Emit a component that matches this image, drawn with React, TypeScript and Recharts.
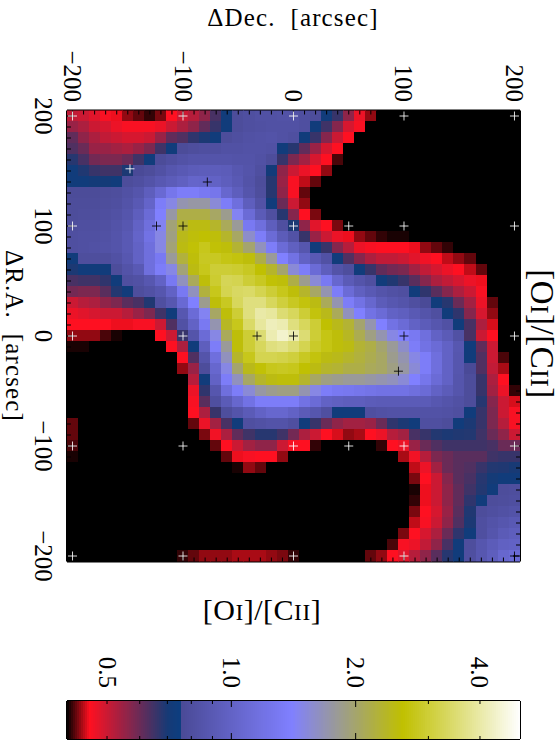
import React from "react";
import { ScatterChart, Scatter, XAxis, YAxis } from "recharts";

// [OI]/[CII] ratio map, rows run from dDec-axis row +200 down to -200 (step 10), columns -200..200
const r00 = [.51,.50,.48,.46,.45,.43,.42,.41,.425,.455,.50,.52,.56,.64,.73,.78,.80,.82,.82,.83,.83,.80,.78,.73,.66,.56,.47,.43,.38,.38,.38,.38,.38,.38,.38,.38,.38,.38,.38,.38,.38];
const r01 = [.55,.53,.50,.49,.47,.46,.46,.46,.47,.50,.53,.56,.61,.66,.73,.78,.80,.81,.82,.82,.82,.80,.73,.65,.57,.49,.46,.38,.38,.38,.38,.38,.38,.38,.38,.38,.38,.38,.38,.38,.38];
const r02 = [.61,.56,.53,.51,.50,.49,.49,.50,.55,.61,.63,.67,.695,.73,.78,.80,.82,.83,.84,.82,.80,.73,.66,.57,.50,.455,.40,.38,.38,.38,.38,.38,.38,.38,.38,.38,.38,.38,.38,.38,.38];
const r03 = [.63,.60,.55,.55,.54,.53,.55,.58,.65,.73,.77,.79,.80,.80,.82,.82,.83,.83,.82,.73,.68,.61,.55,.49,.455,.40,.38,.38,.38,.38,.38,.38,.38,.38,.38,.38,.38,.38,.38,.38,.38];
const r04 = [.68,.64,.59,.58,.58,.60,.65,.73,.77,.80,.83,.85,.85,.85,.85,.84,.84,.82,.78,.66,.58,.54,.49,.455,.415,.38,.38,.38,.38,.38,.38,.38,.38,.38,.38,.38,.38,.38,.38,.38,.38];
const r05 = [.73,.69,.66,.65,.65,.695,.76,.78,.82,.87,.90,.93,.94,.94,.93,.88,.85,.80,.72,.56,.50,.47,.455,.43,.38,.38,.38,.38,.38,.38,.38,.38,.38,.38,.38,.38,.38,.38,.38,.38,.38];
const r06 = [.73,.73,.715,.715,.73,.78,.80,.84,.89,.93,.97,1.03,1.02,1.0,.95,.90,.84,.78,.68,.55,.46,.44,.42,.39,.38,.38,.38,.38,.38,.38,.38,.38,.38,.38,.38,.38,.38,.38,.38,.38,.38];
const r07 = [.77,.77,.77,.78,.79,.82,.86,.95,1.08,1.25,1.35,1.35,1.3,1.25,1.05,.95,.86,.79,.68,.56,.46,.42,.39,.38,.38,.38,.38,.38,.38,.38,.38,.38,.38,.38,.38,.38,.38,.38,.38,.38,.38];
const r08 = [.78,.78,.78,.79,.80,.84,.90,1.02,1.35,1.5,1.7,1.75,1.75,1.55,1.35,1.15,.95,.83,.73,.60,.50,.43,.39,.38,.38,.38,.38,.38,.38,.38,.38,.38,.38,.38,.38,.38,.38,.38,.38,.38,.38];
const r09 = [.78,.79,.79,.80,.82,.86,.95,1.1,1.4,1.75,2.2,2.2,2.2,2.05,1.85,1.45,1.1,.92,.80,.68,.57,.455,.425,.39,.38,.38,.38,.38,.38,.38,.38,.38,.38,.38,.38,.38,.38,.38,.38,.38,.38];
const r10 = [.79,.80,.80,.81,.84,.88,1.0,1.15,1.45,1.95,2.3,2.5,2.5,2.35,2.1,1.8,1.3,1.15,.95,.80,.695,.56,.48,.455,.425,.395,.38,.38,.38,.38,.38,.38,.38,.38,.38,.38,.38,.38,.38,.38,.38];
const r11 = [.80,.81,.81,.82,.85,.90,1.02,1.2,1.5,1.9,2.45,2.55,2.6,2.55,2.35,2.05,1.6,1.35,1.1,.93,.83,.66,.55,.50,.47,.45,.43,.42,.41,.405,.405,.40,.395,.38,.38,.38,.38,.38,.38,.38,.38];
const r12 = [.80,.81,.82,.83,.85,.90,1.0,1.15,1.5,1.95,2.5,2.65,2.8,2.65,2.55,2.3,2.0,1.65,1.35,1.1,.97,.87,.73,.66,.57,.52,.47,.46,.455,.455,.455,.45,.43,.42,.41,.395,.38,.38,.38,.38,.38];
const r13 = [.73,.79,.79,.79,.82,.88,1.0,1.15,1.3,1.8,2.25,2.55,2.85,2.85,2.75,2.7,2.55,2.2,1.8,1.4,1.2,1.0,.90,.82,.73,.63,.57,.53,.51,.51,.50,.48,.465,.455,.44,.43,.42,.40,.38,.38,.38];
const r14 = [.695,.73,.73,.73,.78,.84,.90,1.15,1.35,1.5,1.95,2.5,2.8,3.0,3.0,2.95,2.85,2.6,2.35,2.0,1.55,1.35,1.1,.95,.84,.79,.73,.66,.61,.59,.58,.54,.51,.49,.47,.455,.44,.42,.395,.38,.38];
const r15 = [.64,.65,.65,.67,.73,.80,.82,.88,1.0,1.3,1.65,2.1,2.55,2.95,3.25,3.2,3.0,2.85,2.65,2.55,2.2,1.85,1.55,1.3,1.05,.92,.85,.80,.73,.69,.66,.62,.57,.53,.51,.49,.47,.45,.40,.38,.38];
const r16 = [.59,.58,.58,.62,.685,.73,.79,.82,.87,1.0,1.3,1.65,2.25,2.8,3.2,3.35,3.4,3.2,3.0,2.8,2.55,2.35,2.05,1.7,1.35,1.1,.97,.90,.85,.82,.80,.73,.67,.62,.57,.53,.50,.46,.40,.38,.38];
const r17 = [.50,.52,.53,.56,.58,.62,.64,.69,.80,.88,1.08,1.4,1.85,2.55,2.85,3.3,3.6,3.6,3.3,3.05,2.85,2.7,2.5,2.1,1.7,1.35,1.2,1.05,.93,.88,.85,.80,.76,.73,.68,.60,.54,.47,.42,.38,.38];
const r18 = [.47,.48,.49,.50,.50,.52,.55,.58,.65,.73,.88,1.1,1.45,2.05,2.55,3.0,3.6,4.0,3.9,3.5,3.3,3.0,2.7,2.45,2.1,1.65,1.4,1.2,1.1,1.0,.96,.90,.85,.80,.73,.67,.57,.49,.43,.38,.38];
const r19 = [.455,.455,.455,.455,.45,.45,.46,.46,.50,.63,.82,1.0,1.3,1.7,2.4,2.8,3.4,3.9,4.2,4.1,3.6,3.3,3.0,2.6,2.45,2.3,2.0,1.7,1.4,1.2,1.1,1.0,.93,.87,.82,.73,.64,.53,.445,.38,.38];
const r20 = [.43,.43,.43,.415,.405,.38,.38,.40,.455,.50,.66,.85,1.1,1.5,2.1,2.55,3.0,3.5,4.1,4.4,4.1,3.5,3.0,2.75,2.55,2.4,2.15,1.9,1.7,1.5,1.4,1.3,1.15,1.0,.92,.82,.64,.50,.455,.38,.38];
const r21 = [.405,.405,.40,.395,.38,.38,.38,.38,.38,.455,.53,.73,.95,1.35,1.8,2.55,3.0,3.3,3.6,3.7,3.5,3.2,2.9,2.75,2.55,2.5,2.3,2.2,2.0,1.8,1.6,1.35,1.2,1.1,1.0,.88,.73,.61,.50,.40,.38];
const r22 = [.38,.38,.38,.38,.38,.38,.38,.38,.38,.39,.455,.63,.85,1.15,1.65,2.35,2.8,3.2,3.2,3.15,3.05,2.85,2.7,2.5,2.45,2.35,2.25,2.15,2.05,1.85,1.7,1.5,1.35,1.15,1.0,.87,.73,.63,.50,.415,.38];
const r23 = [.38,.38,.38,.38,.38,.38,.38,.38,.38,.38,.43,.55,.78,1.05,1.5,2.0,2.45,2.65,2.8,2.85,2.8,2.6,2.5,2.35,2.3,2.2,2.2,2.1,2.05,1.9,1.75,1.55,1.35,1.15,1.0,.87,.76,.63,.51,.435,.38];
const r24 = [.38,.38,.38,.38,.38,.38,.38,.38,.38,.38,.395,.52,.73,1.0,1.35,1.65,2.05,2.35,2.5,2.55,2.55,2.35,2.05,1.9,1.85,1.8,1.8,1.75,1.7,1.65,1.55,1.4,1.25,1.1,1.0,.86,.78,.66,.53,.455,.38];
const r25 = [.38,.38,.38,.38,.38,.38,.38,.38,.38,.38,.38,.47,.67,.87,1.15,1.35,1.55,1.75,1.85,1.9,1.9,1.7,1.5,1.35,1.3,1.28,1.25,1.22,1.2,1.2,1.2,1.15,1.1,1.0,.93,.86,.78,.66,.54,.47,.41];
const r26 = [.395,.38,.38,.38,.38,.38,.38,.38,.38,.38,.38,.46,.62,.80,.92,1.05,1.2,1.35,1.35,1.35,1.35,1.2,1.1,1.0,.97,.95,.95,.93,.92,.92,.92,.92,.92,.88,.85,.82,.78,.68,.57,.50,.445];
const r27 = [.40,.38,.38,.38,.38,.38,.38,.38,.38,.38,.38,.455,.53,.66,.79,.85,.92,1.0,1.05,1.05,1.0,.92,.87,.80,.73,.73,.73,.80,.82,.83,.83,.83,.83,.83,.82,.80,.73,.66,.58,.50,.46];
const r28 = [.42,.38,.38,.38,.38,.38,.38,.38,.38,.38,.38,.42,.47,.54,.64,.73,.80,.82,.84,.84,.80,.73,.66,.60,.56,.54,.54,.55,.60,.67,.695,.73,.80,.80,.78,.73,.695,.66,.58,.52,.46];
const r29 = [.42,.38,.38,.38,.38,.38,.38,.38,.38,.38,.38,.38,.425,.465,.53,.61,.65,.68,.68,.65,.59,.53,.50,.455,.445,.43,.435,.455,.47,.52,.54,.64,.66,.685,.695,.69,.685,.65,.60,.56,.50];
const r30 = [.415,.38,.38,.38,.38,.38,.38,.38,.38,.38,.38,.38,.38,.42,.455,.50,.54,.56,.56,.50,.46,.455,.41,.38,.38,.38,.38,.38,.41,.455,.47,.55,.60,.63,.65,.65,.65,.65,.64,.60,.60];
const r31 = [.405,.38,.38,.38,.38,.38,.38,.38,.38,.38,.38,.38,.38,.38,.42,.45,.46,.455,.455,.43,.39,.38,.38,.38,.38,.38,.38,.38,.38,.38,.435,.465,.52,.58,.60,.62,.62,.62,.65,.66,.66];
const r32 = [.395,.38,.38,.38,.38,.38,.38,.38,.38,.38,.38,.38,.38,.38,.38,.405,.43,.42,.38,.38,.38,.38,.38,.38,.38,.38,.38,.38,.38,.38,.395,.44,.47,.54,.60,.62,.63,.66,.685,.69,.70];
const r33 = [.38,.38,.38,.38,.38,.38,.38,.38,.38,.38,.38,.38,.38,.38,.38,.38,.38,.38,.38,.38,.38,.38,.38,.38,.38,.38,.38,.38,.38,.38,.38,.425,.455,.50,.57,.62,.64,.68,.71,.73,.73];
const r34 = [.38,.38,.38,.38,.38,.38,.38,.38,.38,.38,.38,.38,.38,.38,.38,.38,.38,.38,.38,.38,.38,.38,.38,.38,.38,.38,.38,.38,.38,.38,.38,.405,.45,.50,.56,.61,.65,.685,.73,.78,.79];
const r35 = [.38,.38,.38,.38,.38,.38,.38,.38,.38,.38,.38,.38,.38,.38,.38,.38,.38,.38,.38,.38,.38,.38,.38,.38,.38,.38,.38,.38,.38,.38,.38,.41,.45,.50,.56,.61,.67,.73,.78,.79,.80];
const r36 = [.38,.38,.38,.38,.38,.38,.38,.38,.38,.38,.38,.38,.38,.38,.38,.38,.38,.38,.38,.38,.38,.38,.38,.38,.38,.38,.38,.38,.38,.38,.38,.425,.455,.49,.55,.62,.69,.78,.80,.82,.84];
const r37 = [.38,.38,.38,.38,.38,.38,.38,.38,.38,.38,.38,.38,.38,.38,.38,.38,.38,.38,.38,.38,.38,.38,.38,.38,.38,.38,.38,.38,.38,.38,.40,.44,.46,.50,.56,.63,.695,.80,.84,.87,.90];
const r38 = [.38,.38,.38,.38,.38,.38,.38,.38,.38,.38,.38,.38,.38,.38,.38,.38,.38,.38,.38,.38,.38,.38,.38,.38,.38,.38,.38,.38,.38,.38,.425,.455,.49,.53,.60,.67,.73,.80,.86,.92,.95];
const r39 = [.38,.38,.38,.38,.38,.38,.38,.38,.38,.38,.38,.38,.39,.395,.395,.395,.395,.39,.38,.38,.38,.38,.38,.38,.38,.38,.38,.38,.38,.415,.46,.47,.51,.56,.64,.73,.79,.87,.93,.98,1.0];
const r40 = [.38,.38,.38,.38,.38,.38,.38,.38,.38,.38,.41,.42,.43,.43,.43,.435,.435,.435,.43,.425,.41,.39,.39,.38,.38,.39,.40,.42,.43,.455,.48,.52,.56,.62,.68,.73,.80,.88,.95,1.05,1.1];
const rows = [r00,r01,r02,r03,r04,r05,r06,r07,r08,r09,r10,r11,r12,r13,r14,r15,r16,r17,r18,r19,r20,r21,r22,r23,r24,r25,r26,r27,r28,r29,r30,r31,r32,r33,r34,r35,r36,r37,r38,r39,r40];

const whitePlus = [[-200,200],[-100,200],[0,200],[100,200],[200,200],[-148,152],[-200,100],[0,100],[50,100],[100,100],[200,100],[-200,0],[-100,0],[200,0],[-200,-100],[-100,-100],[0,-100],[50,-100],[100,-100],[200,-100],[-200,-200],[-100,-200],[0,-200],[100,-200]];
const blackPlus = [[-78,140],[-124,100],[-100,100],[-33,0],[0,0],[100,0],[95,-32],[200,-200]];

const axisTicks = [-200,-190,-180,-170,-160,-150,-140,-130,-120,-110,-100,-90,-80,-70,-60,-50,-40,-30,-20,-10,0,10,20,30,40,50,60,70,80,90,100,110,120,130,140,150,160,170,180,190,200];
const axisLabels = [-200,-100,0,100,200];
const barTicks = [0.5,0.6,0.7,0.8,0.9,1,2,3,4];
const barLongTicks = [1,2];
const barLabels = [0.5,1,2,4];

// colour table: position on log scale from 0.4 to 5, and rgb
const cmapPos = [0,.05,.223,.252,.2521,.497,.743,1];
const cmapRgb = [[0,0,0],[255,16,32],[22,58,118],[12,62,128],[74,74,150],[128,128,255],[192,192,0],[255,255,255]];
const V_MIN = 0.4, V_MAX = 5;

function colourAt(t0: number) {
  const t = Math.max(0, Math.min(1, t0));
  let k = 0;
  while (k < cmapPos.length - 2 && t > cmapPos[k + 1]) k++;
  const f = (t - cmapPos[k]) / (cmapPos[k + 1] - cmapPos[k]);
  const c = cmapRgb[k].map((a, n) => Math.round(a + (cmapRgb[k + 1][n] - a) * f));
  return `rgb(${c[0]},${c[1]},${c[2]})`;
}
const colour = (v: number) => colourAt(Math.log(v / V_MIN) / Math.log(V_MAX / V_MIN));

const W = 559, H = 747;
const L = 67, T = 110.5, PW = 453, PH = 451;
const CELL_W = PW / 41, CELL_H = PH / 41;
const FONT = "'Liberation Serif', serif";
const FS = 25;
const LS = 1.15;

const cells = rows.flatMap((row, j) => row.map((v, i) => ({ x: -200 + 10 * i, y: 200 - 10 * j, v })));
const toPts = (a: number[][]) => a.map(([x, y]) => ({ x, y }));

const Cell = (p: any) => (
  <rect x={p.cx - CELL_W / 2 - 0.3} y={p.cy - CELL_H / 2 - 0.3} width={CELL_W + 0.6} height={CELL_H + 0.6} fill={colour(p.payload.v)} shapeRendering="crispEdges" />
);
const Plus = (stroke: string) => (p: any) => (
  <path d={`M${p.cx - 4.5} ${p.cy}H${p.cx + 4.5}M${p.cx} ${p.cy - 4.5}V${p.cy + 4.5}`} stroke={stroke} strokeWidth={1} opacity={0.85} fill="none" />
);

const label = (v: number) => (v < 0 ? "\u2212" + Math.abs(v) : String(v));
const Rot = ({ x, y, anchor, size = FS, spacing = 0, children }: any) => (
  <text transform={`translate(${x},${y}) rotate(90)`} textAnchor={anchor} fontFamily={FONT} fontSize={size} letterSpacing={spacing} fill="#000">{children}</text>
);
const hTick = (edge: number, dir: number, withLabel: boolean) => (p: any) => {
  const major = axisLabels.includes(p.payload.value);
  return (
    <g>
      <line x1={p.x} x2={p.x} y1={edge} y2={edge + dir * (major ? 7 : 4)} stroke="#000" strokeWidth={1} />
      {withLabel && major ? <Rot x={p.x - 8.5} y={102} anchor="end">{label(p.payload.value)}</Rot> : null}
    </g>
  );
};
const vTick = (edge: number, dir: number, withLabel: boolean) => (p: any) => {
  const major = axisLabels.includes(p.payload.value);
  return (
    <g>
      <line y1={p.y} y2={p.y} x1={edge} x2={edge + dir * (major ? 7 : 4)} stroke="#000" strokeWidth={1} />
      {withLabel && major ? <Rot x={35} y={p.y} anchor="middle">{label(p.payload.value)}</Rot> : null}
    </g>
  );
};
const axisLine = { stroke: "#000", strokeWidth: 2 };

const BAR_T = 61, BAR_H = 38;
const barTick = (edge: number, dir: number, withLabel: boolean) => (p: any) => {
  const v = p.payload.value;
  return (
    <g>
      <line x1={p.x} x2={p.x} y1={edge} y2={edge + dir * (barLongTicks.includes(v) ? 6 : 3)} stroke="#000" strokeWidth={1} />
      {withLabel && barLabels.includes(v) ? <Rot x={p.x - 8.5} y={48} anchor="end">{v.toFixed(1)}</Rot> : null}
    </g>
  );
};

// colour bar drawn as a ramp of levels running along the log axis
const BAR_STEPS = 226;
const barLevels = Array.from({ length: BAR_STEPS }, (_, k) => ({
  x: V_MIN * Math.pow(V_MAX / V_MIN, (k + 0.5) / BAR_STEPS),
  y: 0.5,
  t: (k + 0.5) / BAR_STEPS,
}));
const BarStep = (p: any) => (
  <rect x={p.cx - PW / BAR_STEPS / 2 - 0.3} y={p.cy - BAR_H / 2} width={PW / BAR_STEPS + 0.6} height={BAR_H} fill={colourAt(p.payload.t)} shapeRendering="crispEdges" />
);

const smallCaps = (size: number) => (
  <>
    [O<tspan fontSize={size * 0.78}>I</tspan>]/[C<tspan fontSize={size * 0.78}>II</tspan>]
  </>
);
const layer: React.CSSProperties = { position: "absolute", left: 0 };

export default function App() {
  const mainMargin = { left: L - 1, top: T - 1, right: W - L - PW - 1, bottom: H - T - PH - 1 };
  return (
    <div style={{ position: "absolute", left: 0, top: 0, width: W, height: H, background: "#fff" }}>
      <div style={{ ...layer, top: 0 }}>
        <ScatterChart width={W} height={H} margin={mainMargin}>
          <XAxis xAxisId="b" dataKey="x" type="number" orientation="bottom" height={1} domain={[-205, 205]} ticks={axisTicks} interval={0} tickSize={0} tick={hTick(T + PH, -1, false)} axisLine={axisLine} allowDataOverflow />
          <XAxis xAxisId="t" dataKey="x" type="number" orientation="top" height={1} domain={[-205, 205]} ticks={axisTicks} interval={0} tickSize={0} tick={hTick(T, 1, true)} axisLine={axisLine} allowDataOverflow />
          <YAxis yAxisId="l" dataKey="y" type="number" orientation="left" width={1} domain={[-205, 205]} ticks={axisTicks} interval={0} tickSize={0} tick={vTick(L, 1, true)} axisLine={axisLine} allowDataOverflow />
          <YAxis yAxisId="r" dataKey="y" type="number" orientation="right" width={1} domain={[-205, 205]} ticks={axisTicks} interval={0} tickSize={0} tick={vTick(L + PW, -1, false)} axisLine={axisLine} allowDataOverflow />
          <Scatter xAxisId="b" yAxisId="l" data={cells} shape={Cell} isAnimationActive={false} />
          <text x={293} y={26} textAnchor="middle" fontFamily={FONT} fontSize={FS} letterSpacing={LS} fill="#000">{"ΔDec.\u00A0\u00A0[arcsec]"}</text>
          <text x={262} y={620} textAnchor="middle" fontFamily={FONT} fontSize={30} letterSpacing={0.5} fill="#000">{smallCaps(30)}</text>
          <Rot x={6} y={336} anchor="middle" spacing={LS}>{"ΔR.A.\u00A0\u00A0[arcsec]"}</Rot>
          <Rot x={531} y={334} anchor="middle" size={33} spacing={0.5}>{smallCaps(33)}</Rot>
        </ScatterChart>
      </div>
      <div style={{ ...layer, top: 0 }}>
        <ScatterChart width={W} height={H} margin={{ left: L, top: T, right: W - L - PW, bottom: H - T - PH }}>
          <XAxis dataKey="x" type="number" hide domain={[-205, 205]} allowDataOverflow />
          <YAxis dataKey="y" type="number" hide domain={[-205, 205]} allowDataOverflow />
          <Scatter data={toPts(whitePlus)} shape={Plus("#fff")} isAnimationActive={false} />
          <Scatter data={toPts(blackPlus)} shape={Plus("#000")} isAnimationActive={false} />
        </ScatterChart>
      </div>
      <div style={{ ...layer, top: 640 }}>
        <ScatterChart width={W} height={107} margin={{ left: L - 1, top: BAR_T - 1, right: W - L - PW - 1, bottom: 107 - BAR_T - BAR_H - 1 }}>
          <XAxis xAxisId="b" dataKey="x" type="number" scale="log" orientation="bottom" height={1} domain={[V_MIN, V_MAX]} ticks={barTicks} interval={0} tickSize={0} tick={barTick(BAR_T + BAR_H, -1, false)} axisLine={axisLine} allowDataOverflow />
          <XAxis xAxisId="t" dataKey="x" type="number" scale="log" orientation="top" height={1} domain={[V_MIN, V_MAX]} ticks={barTicks} interval={0} tickSize={0} tick={barTick(BAR_T, 1, true)} axisLine={axisLine} allowDataOverflow />
          <YAxis yAxisId="l" dataKey="y" type="number" orientation="left" width={1} domain={[0, 1]} tick={false} tickSize={0} axisLine={axisLine} />
          <YAxis yAxisId="r" dataKey="y" type="number" orientation="right" width={1} domain={[0, 1]} tick={false} tickSize={0} axisLine={axisLine} />
          <Scatter xAxisId="b" yAxisId="l" data={barLevels} shape={BarStep} isAnimationActive={false} />
        </ScatterChart>
      </div>
    </div>
  );
}
